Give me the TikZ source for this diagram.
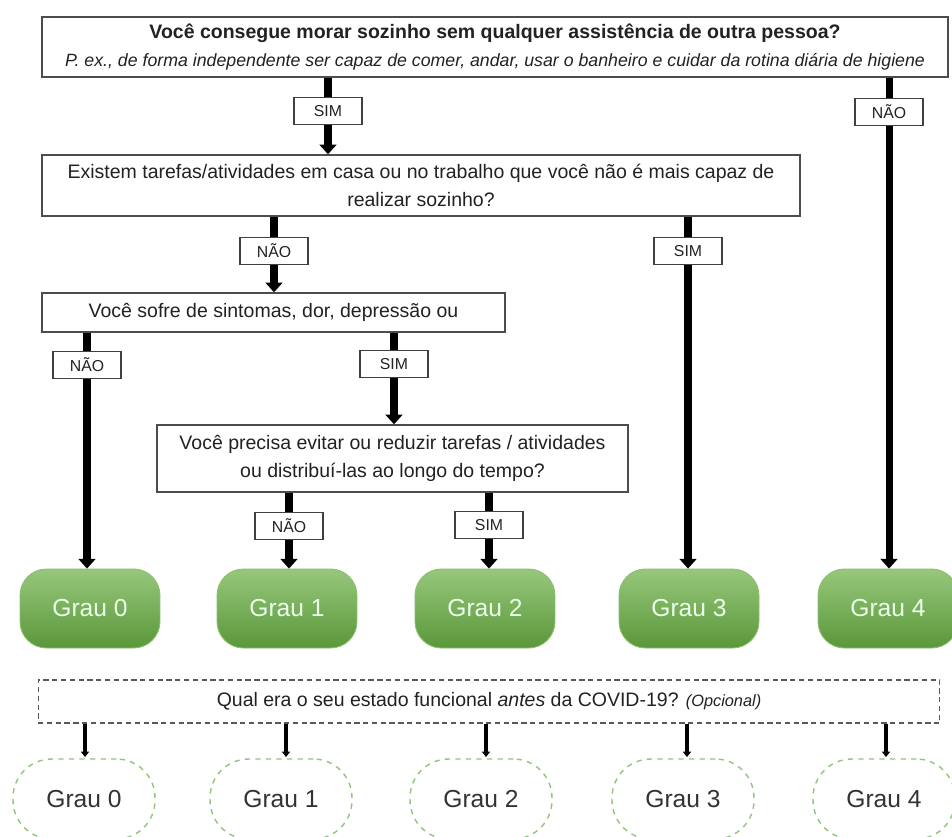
\documentclass[tikz,border=0pt]{standalone}
\usepackage{fontspec}
\setmainfont{Liberation Sans}
\usetikzlibrary{arrows.meta, positioning}

\definecolor{txtgray}{HTML}{222222}
\definecolor{grautop}{HTML}{97C77B}
\definecolor{graubot}{HTML}{5A973A}
\definecolor{grauline}{HTML}{8CBF6E}
\definecolor{graudash}{HTML}{93C47D}

\tikzset{
    question/.style={draw=black!70, line width=0.8pt, fill=white, align=center,
        inner sep=0pt, text=txtgray, font=\fontsize{11.1}{16}\selectfont},
    answer/.style={draw=black!75, line width=0.7pt, fill=white, inner sep=0pt,
        minimum width=1.36cm, minimum height=0.54cm, text=txtgray,
        font=\fontsize{9}{10}\selectfont},
    grau/.style={draw=grauline, line width=0.5pt, top color=grautop, bottom color=graubot,
        rounded corners=15pt, minimum width=2.8cm, minimum height=1.58cm,
        text=white!92!green, font=\fontsize{14}{15}\selectfont},
    graubefore/.style={draw=graudash, dashed, line width=0.8pt, rounded corners=22pt,
        minimum width=2.84cm, minimum height=1.6cm, text=black!80,
        font=\fontsize{14}{15}\selectfont},
    link/.style={line width=4pt},
    arrow/.style={line width=4pt, -{Triangle[width=9.5pt, length=5.5pt]}},
    thinarrow/.style={line width=1.8pt, -{Triangle[width=4.5pt, length=3pt]}}
}

\begin{document}
\begin{tikzpicture}[x=0.02cm, y=-0.02cm]
    \useasboundingbox (0,0) rectangle (952,836);
    \clip (0,0) rectangle (952,836);
    \fill[white] (0,0) rectangle (952,836);

    % Questions
    \node[question, minimum width=18.12cm, minimum height=1.2cm] (q1) at (495,47)
        {{\bfseries Você consegue morar sozinho sem qualquer assistência de outra pessoa?}\\
         {\itshape\fontsize{10.1}{12}\selectfont P. ex., de forma independente ser capaz de comer, andar, usar o banheiro e cuidar da rotina diária de higiene}};
    \node[question, minimum width=15.16cm, minimum height=1.22cm] (q2) at (421,185.5)
        {Existem tarefas/atividades em casa ou no trabalho que você não é mais capaz de\\
         realizar sozinho?};
    \node[question, minimum width=9.26cm, minimum height=0.78cm] (q3) at (273.5,312.5)
        {Você sofre de sintomas, dor, depressão ou};
    \node[question, minimum width=9.42cm, minimum height=1.34cm] (q4) at (392.5,458.5)
        {Você precisa evitar ou reduzir tarefas / atividades\\
         ou distribuí-las ao longo do tempo?};

    % Answers
    \node[answer] (simA) at (328,111) {SIM};
    \node[answer] (naoA) at (889,112) {NÃO};
    \node[answer] (naoB) at (274,251) {NÃO};
    \node[answer] (simB) at (688,251) {SIM};
    \node[answer] (naoC) at (87,365) {NÃO};
    \node[answer] (simC) at (394,364) {SIM};
    \node[answer] (naoD) at (289,526) {NÃO};
    \node[answer] (simD) at (489,525) {SIM};

    % Grades now
    \node[grau] (g0) at (90,608.5) {Grau 0};
    \node[grau] (g1) at (287,608.5) {Grau 1};
    \node[grau] (g2) at (485,608.5) {Grau 2};
    \node[grau] (g3) at (689,608.5) {Grau 3};
    \node[grau] (g4) at (888,608.5) {Grau 4};

    % Before COVID-19
    \node[draw=black!65, densely dashed, line width=0.6pt, minimum width=18.04cm,
          minimum height=0.86cm, inner sep=0pt, text=txtgray,
          font=\fontsize{11.1}{12}\selectfont] (pre) at (489,701.5)
        {Qual era o seu estado funcional \textit{antes} da COVID-19? {\itshape\fontsize{9.3}{10}\selectfont(Opcional)}};

    \node[graubefore] (b0) at (84,799) {Grau 0};
    \node[graubefore] (b1) at (281,799) {Grau 1};
    \node[graubefore] (b2) at (481,799) {Grau 2};
    \node[graubefore] (b3) at (683,799) {Grau 3};
    \node[graubefore] (b4) at (884,799) {Grau 4};

    % Connectors
    \draw[link] (q1.south -| simA) -- (simA);
    \draw[arrow] (simA) -- (simA |- q2.north);
    \draw[link] (q1.south -| naoA) -- (naoA);
    \draw[arrow] (naoA) -- (naoA |- g4.north);

    \draw[link] (q2.south -| naoB) -- (naoB);
    \draw[arrow] (naoB) -- (naoB |- q3.north);
    \draw[link] (q2.south -| simB) -- (simB);
    \draw[arrow] (simB) -- (simB |- g3.north);

    \draw[link] (q3.south -| naoC) -- (naoC);
    \draw[arrow] (naoC) -- (naoC |- g0.north);
    \draw[link] (q3.south -| simC) -- (simC);
    \draw[arrow] (simC) -- (simC |- q4.north);

    \draw[link] (q4.south -| naoD) -- (naoD);
    \draw[arrow] (naoD) -- (naoD |- g1.north);
    \draw[link] (q4.south -| simD) -- (simD);
    \draw[arrow] (simD) -- (simD |- g2.north);

    \draw[thinarrow] (pre.south -| 85,0) -- (85,757);
    \draw[thinarrow] (pre.south -| 286,0) -- (286,757);
    \draw[thinarrow] (pre.south -| 486,0) -- (486,757);
    \draw[thinarrow] (pre.south -| 687,0) -- (687,757);
    \draw[thinarrow] (pre.south -| 886,0) -- (886,757);
\end{tikzpicture}
\end{document}
